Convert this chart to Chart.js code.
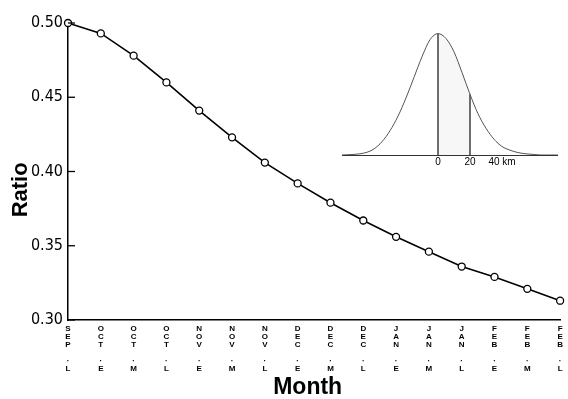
<!DOCTYPE html>
<html>
<head>
<meta charset="utf-8">
<script src="https://cdn.jsdelivr.net/npm/chart.js@4/dist/chart.umd.min.js"></script>
<style>
  body { margin: 0; background: #ffffff; }
  #wrap { position: relative; width: 568px; height: 399px; }
  #chart_main { position: absolute; left: 0; top: 0; }
  #chart_inset { position: absolute; left: 342px; top: 30px; }
</style>
</head>
<body>
<div id="wrap">
  <canvas id="chart_main" width="568" height="399"></canvas>
  <canvas id="chart_inset" width="216" height="145"></canvas>
</div>
<script>
/************************************************************
    DATA
*************************************************************/
var months  = ['SEP', 'OCT', 'OCT', 'OCT', 'NOV', 'NOV', 'NOV', 'DEC', 'DEC', 'DEC', 'JAN', 'JAN', 'JAN', 'FEB', 'FEB', 'FEB'];
var periods = ['L', 'E', 'M', 'L', 'E', 'M', 'L', 'E', 'M', 'L', 'E', 'M', 'L', 'E', 'M', 'L'];
var ratio   = [0.500, 0.493, 0.478, 0.460, 0.441, 0.423, 0.406, 0.392, 0.379, 0.367, 0.356, 0.346, 0.336, 0.329, 0.321, 0.313];
var yTicks  = [0.30, 0.35, 0.40, 0.45, 0.50];

// inset: distribution curve (distance in km, relative height)
var insetKm     = [-60, -55, -50, -45, -40, -35, -30, -25, -20, -15, -10, -5, 0, 5, 10, 15, 20, 25, 30, 35, 40, 45, 50, 55, 60, 65, 70, 75];
var insetHeight = [0, 0.003, 0.008, 0.02, 0.05, 0.11, 0.2, 0.32, 0.47, 0.64, 0.81, 0.95, 1.0, 0.96, 0.85, 0.68, 0.5, 0.34, 0.22, 0.13, 0.07, 0.04, 0.02, 0.01, 0.004, 0, 0, 0];
var insetTicks  = [0, 20, 40];

/************************************************************
    Labels: month letters stacked, then the period letter
*************************************************************/
var labels = months.map(function (m, i) {
    return m.split('').concat(['', '·', periods[i]]);
});

function pts(from, to) {
    var out = [];
    for (var i = 0; i < insetKm.length; i++) {
        if (insetKm[i] >= from && insetKm[i] <= to) out.push({x: insetKm[i], y: insetHeight[i]});
    }
    return out;
}

// short inward tick marks on the y axis
var innerTicks = {
    id: 'innerTicks',
    afterDraw: function (chart) {
        var y = chart.scales.y, ctx = chart.ctx;
        ctx.save();
        ctx.strokeStyle = '#000';
        ctx.lineWidth = 1.3;
        yTicks.forEach(function (v) {
            var py = y.getPixelForValue(v);
            ctx.beginPath();
            ctx.moveTo(chart.chartArea.left, py);
            ctx.lineTo(chart.chartArea.left + 7, py);
            ctx.stroke();
        });
        ctx.restore();
    }
};

/* ------------------
    Main line chart
-------------------*/
var chart_main = new Chart(document.getElementById('chart_main'), {
    type: 'line',
    data: {
        labels: labels,
        datasets: [{
            label: 'Ratio',
            data: ratio,
            borderColor: '#000',
            borderWidth: 1.6,
            pointRadius: 3.5,
            pointBackgroundColor: '#fff',
            pointBorderColor: '#000',
            pointBorderWidth: 1.3,
            tension: 0,
            clip: false
        }]
    },
    options: {
        responsive: false,
        animation: false,
        layout: { padding: { top: 23, right: 4, left: 0, bottom: 0 } },
        plugins: { legend: { display: false }, tooltip: { enabled: false } },
        scales: {
            x: {
                grid: { display: false, drawTicks: false },
                border: { display: true, color: '#000', width: 1.5 },
                ticks: {
                    autoSkip: false,
                    maxRotation: 0,
                    padding: 5,
                    color: '#000',
                    font: { family: "'Liberation Sans', Arial, sans-serif", size: 8, weight: 'bold', lineHeight: '8px' }
                },
                title: {
                    display: true,
                    text: 'Month  ',
                    color: '#000',
                    padding: { top: 0, bottom: 0 },
                    font: { family: "'Liberation Sans', Arial, sans-serif", size: 23, weight: 'bold', lineHeight: 1 }
                },
                afterFit: function (scale) { scale.height = 79; }
            },
            y: {
                min: 0.30,
                max: 0.50,
                grid: { display: false, drawTicks: false },
                border: { display: true, color: '#000', width: 1.5 },
                afterBuildTicks: function (scale) {
                    scale.ticks = yTicks.map(function (v) { return {value: v}; });
                },
                ticks: {
                    padding: 5,
                    color: '#000',
                    font: { family: "'Liberation Sans Narrow', 'DejaVu Sans Condensed', sans-serif", size: 16 },
                    callback: function (v) { return v.toFixed(2); }
                },
                title: {
                    display: true,
                    text: 'Ratio      ',
                    color: '#000',
                    padding: { top: 8, bottom: 0 },
                    font: { family: "'Liberation Sans', Arial, sans-serif", size: 22, weight: 'bold', lineHeight: 1.2 }
                },
                afterFit: function (scale) { scale.width = 68; }
            }
        }
    },
    plugins: [innerTicks]
});

/* ------------------
    Inset distribution
-------------------*/
var chart_inset = new Chart(document.getElementById('chart_inset'), {
    type: 'line',
    data: {
        datasets: [
            {
                label: 'shade',
                data: pts(0, 20),
                borderWidth: 0,
                pointRadius: 0,
                fill: 'origin',
                backgroundColor: 'rgba(0,0,0,0.03)',
                tension: 0.4
            },
            {
                label: 'curve',
                data: pts(-60, 75),
                borderColor: '#555',
                borderWidth: 1,
                pointRadius: 0,
                cubicInterpolationMode: 'monotone'
            },
            {
                label: 'zero',
                data: [{x: 0, y: 0}, {x: 0, y: insetHeight[insetKm.indexOf(0)]}],
                borderColor: '#222',
                borderWidth: 1.3,
                pointRadius: 0
            },
            {
                label: 'twenty',
                data: [{x: 20, y: 0}, {x: 20, y: insetHeight[insetKm.indexOf(20)]}],
                borderColor: '#222',
                borderWidth: 1.3,
                pointRadius: 0
            }
        ]
    },
    options: {
        responsive: false,
        animation: false,
        layout: { padding: 0 },
        plugins: { legend: { display: false }, tooltip: { enabled: false } },
        scales: {
            x: {
                type: 'linear',
                min: -60,
                max: 75,
                grid: { display: false, drawTicks: false },
                border: { display: true, color: '#333', width: 1 },
                afterBuildTicks: function (scale) {
                    scale.ticks = insetTicks.map(function (v) { return {value: v}; });
                },
                ticks: {
                    padding: 1,
                    maxRotation: 0,
                    color: '#000',
                    font: { family: "'Liberation Sans', Arial, sans-serif", size: 10 },
                    callback: function (v) { return v === 40 ? '40 km' : String(v); }
                },
                afterFit: function (scale) { scale.height = 20; }
            },
            y: { display: false, min: 0, max: 1.03 }
        }
    }
});
</script>
</body>
</html>
